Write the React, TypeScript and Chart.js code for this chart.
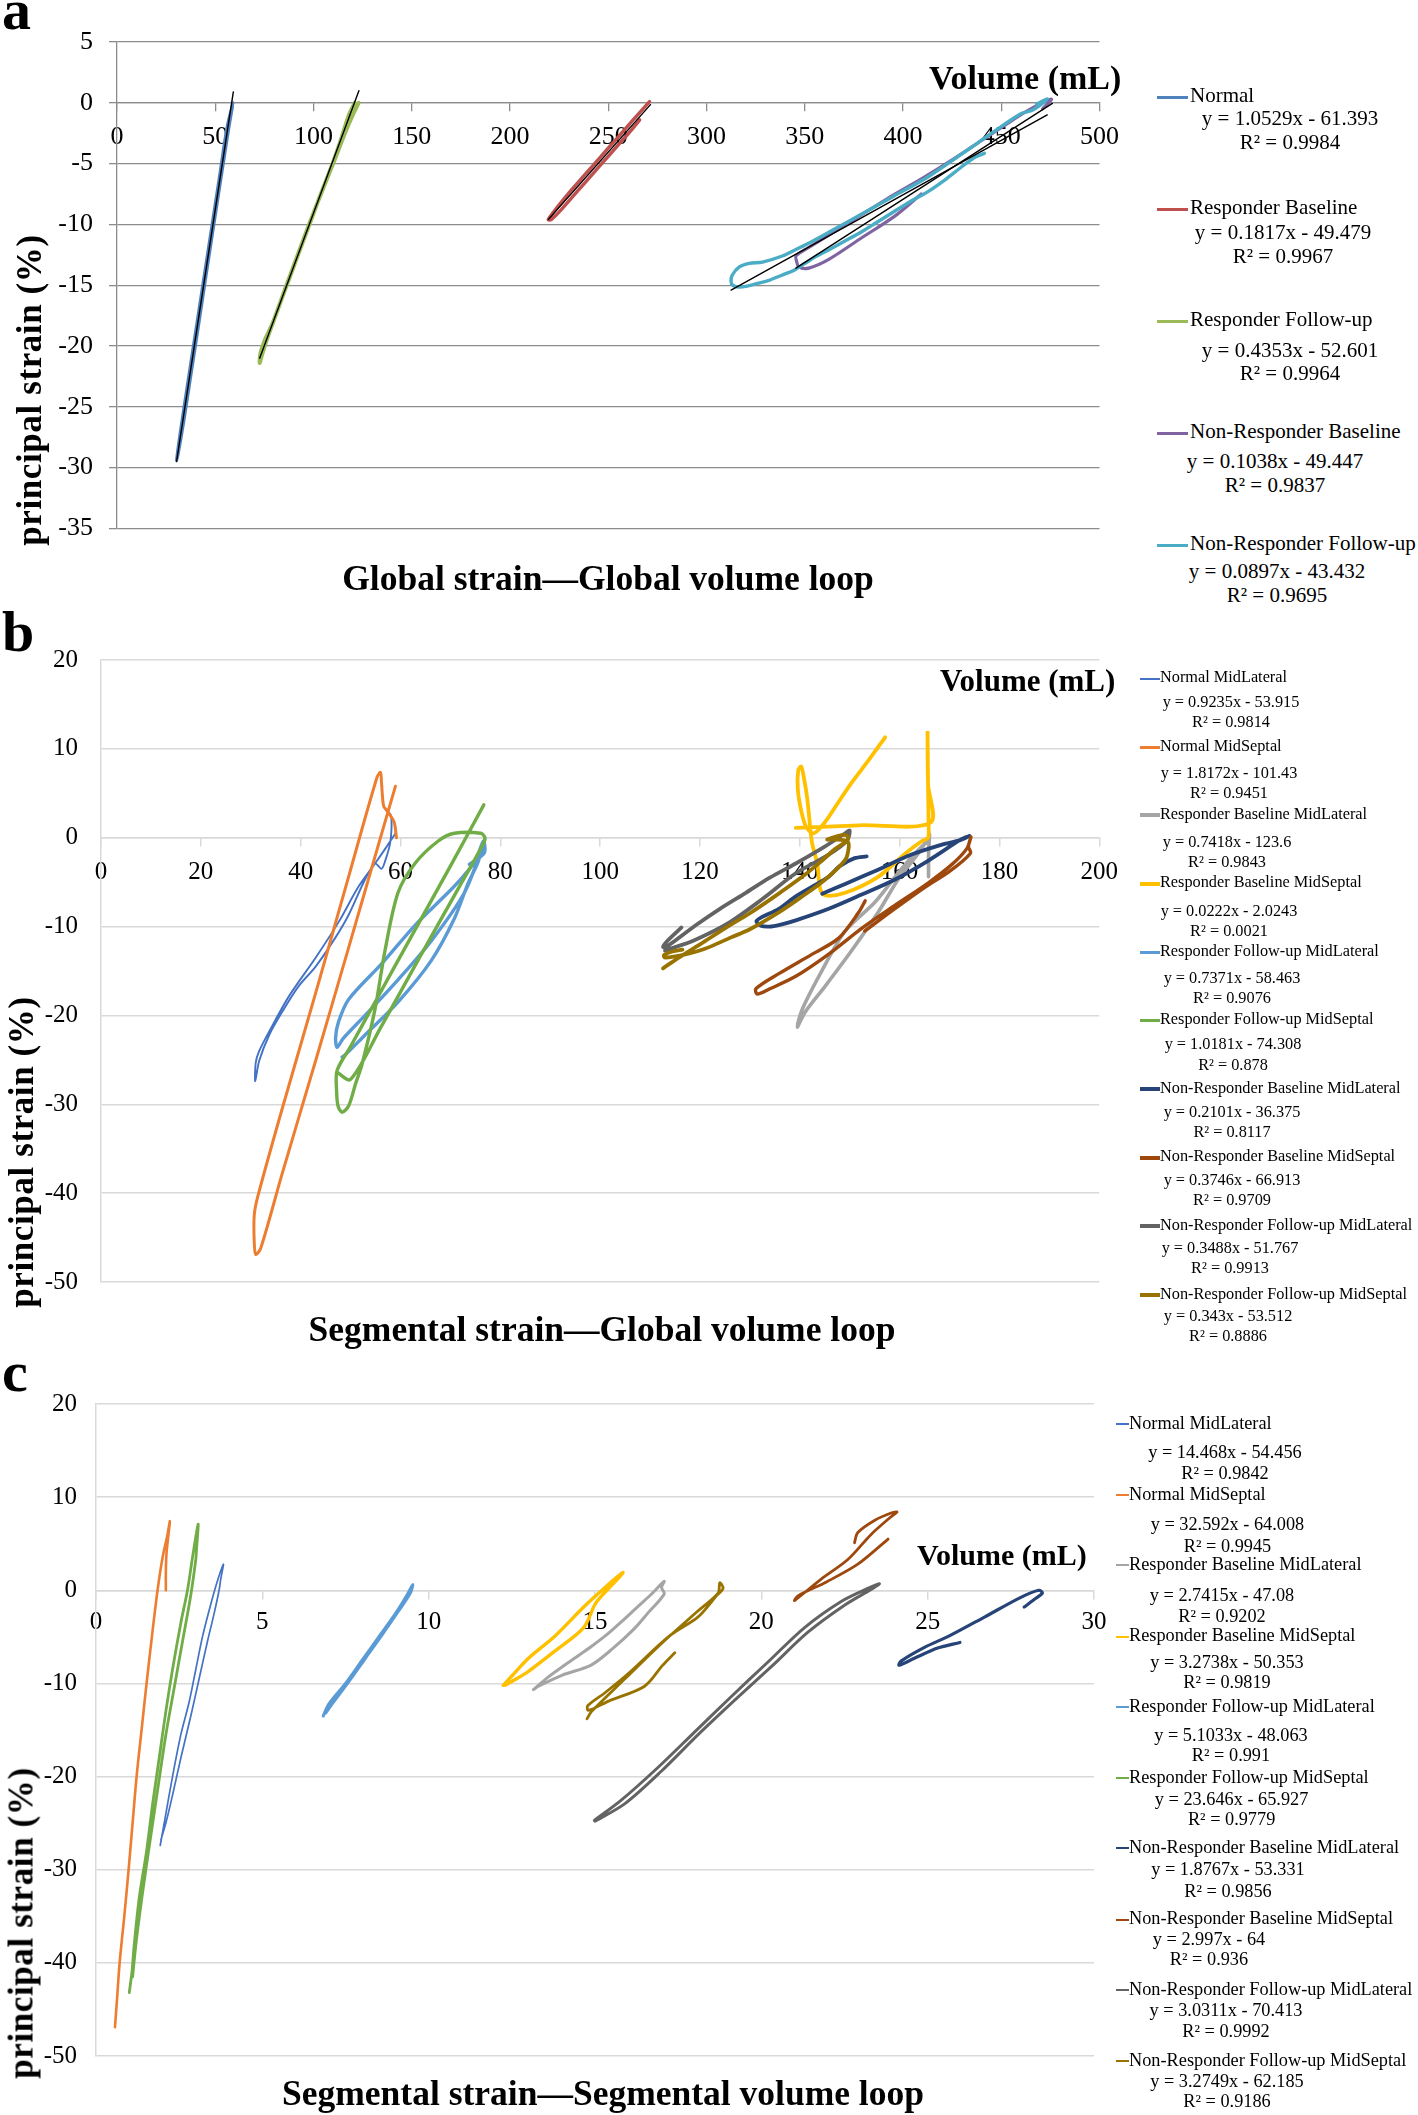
import React, { useEffect, useRef } from "react";
import { Chart, registerables } from "chart.js";

Chart.register(...registerables);

type Pt = [number, number];

const FONT = '"Liberation Serif", "Times New Roman", Times, serif';

// ================= Panel a : Global strain — Global volume loop =================
const aXTicks = [0, 50, 100, 150, 200, 250, 300, 350, 400, 450, 500];
const aYTicks = [5, 0, -5, -10, -15, -20, -25, -30, -35];
const aLabels = ["Normal", "Responder Baseline", "Responder Follow-up", "Non-Responder Baseline", "Non-Responder Follow-up"];
const aEquations = ["y = 1.0529x - 61.393", "y = 0.1817x - 49.479", "y = 0.4353x - 52.601", "y = 0.1038x - 49.447", "y = 0.0897x - 43.432"];
const aR2 = ["R² = 0.9984", "R² = 0.9967", "R² = 0.9964", "R² = 0.9837", "R² = 0.9695"];

const aNormal: Pt[] = [[59.0, 0.0], [56.0, -2.0], [52.0, -6.2], [48.0, -10.4], [44.0, -14.6], [40.0, -18.8], [36.0, -23.0], [32.0, -27.3], [30.3, -29.4], [31.0, -29.0], [34.0, -26.2], [38.0, -22.0], [42.0, -17.8], [46.0, -13.5], [50.0, -9.3], [54.0, -5.1], [57.0, -2.0], [58.8, -0.3]];
const aRespBase: Pt[] = [[271.0, 0.1], [266.0, -0.8], [260.0, -1.9], [254.0, -3.0], [248.0, -4.1], [242.0, -5.2], [236.0, -6.3], [230.0, -7.4], [224.0, -8.6], [219.5, -9.6], [221.0, -9.6], [226.0, -8.8], [232.0, -7.7], [238.0, -6.6], [244.0, -5.5], [250.0, -4.4], [256.0, -3.3], [262.0, -2.2], [266.0, -1.4]];
const aRespFollow: Pt[] = [[123.0, 0.0], [120.0, -1.0], [116.0, -2.5], [111.0, -4.6], [105.0, -7.0], [98.0, -9.9], [92.0, -12.5], [86.0, -15.1], [80.0, -17.8], [76.0, -19.6], [73.5, -20.9], [72.6, -21.4], [73.0, -20.6], [75.0, -19.6], [79.0, -18.2], [85.0, -15.6], [91.0, -13.0], [97.0, -10.4], [103.0, -7.8], [109.0, -5.3], [114.0, -3.0], [118.0, -1.0], [121.0, 0.0]];
const aNonRespBase: Pt[] = [[409.3, -7.5], [396.0, -9.3], [379.0, -11.1], [362.0, -12.9], [352.0, -13.6], [347.0, -13.5], [345.8, -13.0], [345.5, -12.6], [350.0, -12.1], [360.0, -11.1], [370.0, -10.1], [380.0, -9.1], [395.0, -7.6], [410.0, -6.2], [425.0, -4.7], [440.0, -3.1], [455.0, -1.5], [465.0, -0.5], [475.5, 0.3], [471.0, -0.5]];
const aNonRespFollow: Pt[] = [[468.0, -0.1], [473.4, 0.3], [466.0, -0.6], [460.0, -0.9], [446.4, -2.35], [430.0, -4.2], [412.7, -6.1], [395.0, -7.7], [379.0, -9.15], [365.0, -10.4], [353.7, -11.4], [345.0, -12.1], [338.6, -12.6], [328.5, -13.1], [321.7, -13.2], [316.7, -13.5], [313.0, -14.2], [312.5, -14.7], [313.3, -15.0], [316.0, -15.15], [320.0, -15.1], [326.0, -14.85], [331.8, -14.6], [338.0, -14.2], [345.3, -13.7], [353.0, -12.9], [362.1, -12.1], [370.0, -11.4], [379.0, -10.6], [387.0, -9.8], [395.9, -8.9], [404.0, -8.1], [412.7, -7.3], [421.2, -6.35], [429.6, -5.3], [436.4, -4.5], [441.4, -4.16]];

const aNormalTrend: Pt[] = [[30.3, -29.5], [59.2, 0.9]];
const aRespBaseTrend: Pt[] = [[219.5, -9.6], [271.5, -0.15]];
const aRespFollowTrend: Pt[] = [[72.6, -21.0], [123.1, 1.0]];
const aNonRespBaseTrend: Pt[] = [[345.5, -13.6], [476.0, -0.05]];
const aNonRespFollowTrend: Pt[] = [[312.5, -15.4], [473.4, -1.0]];

// ================= Panel b : Segmental strain — Global volume loop =================
const bXTicks = [0, 20, 40, 60, 80, 100, 120, 140, 160, 180, 200];
const bYTicks = [20, 10, 0, -10, -20, -30, -40, -50];
const segLabels = ["Normal MidLateral", "Normal MidSeptal", "Responder Baseline MidLateral", "Responder Baseline MidSeptal", "Responder Follow-up MidLateral", "Responder Follow-up MidSeptal", "Non-Responder Baseline MidLateral", "Non-Responder Baseline MidSeptal", "Non-Responder Follow-up MidLateral", "Non-Responder Follow-up MidSeptal"];
const bEquations = ["y = 0.9235x - 53.915", "y = 1.8172x - 101.43", "y = 0.7418x - 123.6", "y = 0.0222x - 2.0243", "y = 0.7371x - 58.463", "y = 1.0181x - 74.308", "y = 0.2101x - 36.375", "y = 0.3746x - 66.913", "y = 0.3488x - 51.767", "y = 0.343x - 53.512"];
const bR2 = ["R² = 0.9814", "R² = 0.9451", "R² = 0.9843", "R² = 0.0021", "R² = 0.9076", "R² = 0.878", "R² = 0.8117", "R² = 0.9709", "R² = 0.9913", "R² = 0.8886"];

const bNormalMidLat: Pt[] = [[59.0, 0.5], [57.0, -1.2], [54.9, -2.9], [51.6, -5.5], [47.6, -9.5], [43.0, -13.5], [37.7, -17.8], [33.7, -21.8], [31.7, -24.0], [31.0, -25.3], [30.9, -27.4], [31.7, -25.1], [33.7, -22.2], [36.3, -19.6], [39.6, -16.7], [43.0, -14.5], [46.9, -11.3], [49.6, -8.7], [52.9, -4.7], [54.9, -2.9], [56.2, -3.5], [57.0, -2.5], [57.9, -0.7], [58.2, 1.0], [58.1, 2.5], [57.6, 2.9]];
const bNormalMidSep: Pt[] = [[59.2, 0.0], [58.7, 1.8], [57.2, 3.1], [56.6, 3.6], [56.2, 6.2], [56.0, 7.35], [55.3, 6.8], [49.6, -4.4], [43.0, -17.5], [36.3, -30.5], [31.4, -40.4], [30.7, -42.5], [30.7, -45.5], [31.0, -46.9], [32.0, -46.2], [36.3, -37.8], [43.0, -25.1], [49.6, -12.4], [56.2, 0.4], [59.0, 5.8]];
const bRespBaseMidLat: Pt[] = [[166.0, 0.4], [165.8, -2.0], [165.8, -4.4], [165.8, -2.0], [165.7, -0.5], [162.4, -2.2], [159.7, -4.0], [155.0, -7.3], [149.1, -10.5], [144.5, -14.9], [140.5, -19.3], [139.5, -21.3], [141.1, -19.6], [145.1, -16.7], [150.4, -12.7], [155.7, -8.4], [159.7, -4.7], [163.7, -1.8], [165.5, -0.2]];
const bRespBaseMidSep: Pt[] = [[157.1, 11.3], [153.5, 8.5], [150.4, 6.2], [147.5, 3.8], [145.1, 1.8], [142.8, 0.5], [141.3, 1.2], [140.3, 3.0], [139.6, 5.5], [139.7, 7.6], [140.3, 8.0], [140.9, 6.5], [141.5, 4.4], [142.1, 1.1], [142.5, -0.7], [143.5, -2.9], [144.1, -5.8], [145.1, -6.5], [149.1, -6.2], [155.7, -4.4], [161.1, -1.8], [164.4, -0.4], [165.7, 0.0], [165.8, 1.5], [165.7, 6.0], [165.6, 12.0], [165.7, 6.0], [166.2, 1.7], [152.0, 1.4], [139.2, 1.1]];
const bRespFuMidLat: Pt[] = [[73.8, -3.0], [76.8, -1.7], [76.6, -0.4], [75.0, -2.6], [72.5, -4.4], [69.5, -6.2], [63.0, -9.8], [56.2, -14.2], [49.6, -18.2], [47.6, -20.7], [47.0, -22.5], [47.3, -23.6], [48.5, -22.6], [52.9, -20.0], [59.5, -16.0], [66.2, -11.6], [72.8, -6.2], [76.3, -1.2], [76.9, -0.1], [75.5, -2.8], [73.5, -5.2], [70.8, -9.1], [66.2, -13.8], [59.5, -18.5], [52.9, -22.2], [49.0, -24.4], [48.3, -24.7]];
const bRespFuMidSep: Pt[] = [[76.7, 3.7], [70.0, -3.2], [62.0, -11.3], [55.0, -18.4], [50.0, -23.5], [47.3, -26.2], [47.2, -28.5], [47.5, -30.2], [48.3, -30.9], [49.6, -30.2], [51.0, -27.7], [52.3, -25.5], [54.9, -19.3], [56.9, -12.7], [59.5, -6.2], [62.9, -2.9], [67.5, -0.4], [70.8, 0.5], [76.1, 0.5], [76.9, 0.0], [76.5, -0.8], [72.0, -5.3], [64.0, -13.3], [56.0, -21.4], [50.0, -27.2], [47.3, -26.4]];
const bNonRespBaseMidLat: Pt[] = [[153.4, -2.1], [151.0, -2.3], [148.0, -3.2], [145.8, -4.4], [142.5, -5.5], [139.2, -6.6], [135.8, -8.0], [132.2, -9.0], [131.3, -9.4], [132.2, -9.9], [133.9, -10.0], [136.0, -9.8], [139.2, -9.3], [145.8, -8.0], [152.4, -6.4], [159.1, -4.7], [165.7, -2.6], [172.3, -0.2], [174.0, 0.2], [172.0, -0.3], [169.0, -0.7], [162.4, -1.9], [155.7, -3.6], [149.1, -5.2], [144.5, -6.3]];
const bNonRespBaseMidSep: Pt[] = [[153.1, -7.1], [151.8, -8.4], [147.8, -11.3], [142.5, -13.1], [135.8, -15.3], [131.2, -17.0], [131.5, -17.6], [134.0, -17.0], [139.2, -15.6], [145.8, -13.1], [152.4, -10.2], [159.1, -7.6], [165.7, -5.1], [170.5, -3.0], [173.5, -1.2], [174.3, 0.1], [173.8, -1.0], [174.2, -1.75], [170.0, -3.8], [165.0, -5.6], [159.0, -8.0], [153.0, -10.5]];
const bNonRespFuMidLat: Pt[] = [[116.3, -10.1], [113.5, -11.6], [112.6, -12.3], [113.5, -12.2], [119.3, -9.8], [124.0, -8.0], [129.2, -6.2], [134.0, -4.5], [139.2, -2.9], [145.0, -1.0], [149.1, 0.5], [150.0, 0.8], [149.5, -0.3], [145.8, -1.9], [139.2, -4.0], [132.5, -6.9], [126.0, -9.5], [119.0, -11.5], [113.0, -12.7]];
const bNonRespFuMidSep: Pt[] = [[112.6, -14.7], [116.0, -13.4], [120.0, -12.0], [125.0, -10.2], [130.0, -8.5], [135.0, -6.6], [140.0, -4.6], [144.0, -2.8], [147.0, -1.3], [149.5, -0.3], [149.6, 0.2], [148.5, 0.3], [145.5, -0.2], [147.0, -0.2], [149.5, -0.4], [149.8, -1.1], [149.1, -2.5], [145.1, -4.7], [140.0, -6.8], [135.8, -8.4], [130.0, -10.3], [125.9, -11.3], [121.0, -12.5], [117.3, -13.1], [113.0, -13.5], [112.8, -13.2], [114.5, -12.8], [116.5, -12.6]];

// ================= Panel c : Segmental strain — Segmental volume loop =================
const cXTicks = [0, 5, 10, 15, 20, 25, 30];
const cYTicks = [20, 10, 0, -10, -20, -30, -40, -50];
const cEquations = ["y = 14.468x - 54.456", "y = 32.592x - 64.008", "y = 2.7415x - 47.08", "y = 3.2738x - 50.353", "y = 5.1033x - 48.063", "y = 23.646x - 65.927", "y = 1.8767x - 53.331", "y = 2.997x - 64", "y = 3.0311x - 70.413", "y = 3.2749x - 62.185"];
const cR2 = ["R² = 0.9842", "R² = 0.9945", "R² = 0.9202", "R² = 0.9819", "R² = 0.991", "R² = 0.9779", "R² = 0.9856", "R² = 0.936", "R² = 0.9992", "R² = 0.9186"];

const cNormalMidLat: Pt[] = [[1.93, -27.4], [2.1, -24.0], [2.3, -20.0], [2.55, -15.5], [2.8, -12.0], [3.0, -8.5], [3.2, -5.0], [3.45, -1.5], [3.65, 1.0], [3.83, 2.8], [3.75, 1.2], [3.7, 0.0], [3.55, -2.5], [3.35, -5.5], [3.1, -9.5], [2.85, -13.5], [2.55, -18.0], [2.3, -22.0], [2.1, -25.0], [1.95, -26.8]];
const cNormalMidSep: Pt[] = [[0.57, -46.9], [0.63, -44.0], [0.71, -40.0], [0.85, -35.0], [0.98, -30.0], [1.1, -25.0], [1.22, -20.0], [1.37, -15.0], [1.52, -10.0], [1.68, -5.0], [1.85, 0.0], [2.0, 3.5], [2.15, 6.0], [2.22, 7.4], [2.12, 4.0], [2.1, 2.0], [2.1, 0.0]];
const cRespBaseMidLat: Pt[] = [[13.15, -10.66], [13.6, -9.3], [14.34, -7.4], [14.9, -6.0], [15.41, -4.6], [15.85, -3.2], [16.27, -1.8], [16.7, -0.4], [17.08, 0.97], [17.0, 0.3], [17.08, -0.4], [16.6, -2.4], [16.16, -4.2], [15.52, -6.3], [14.87, -8.06], [14.02, -9.1], [13.3, -10.3], [13.15, -10.66]];
const cRespBaseMidSep: Pt[] = [[12.24, -10.2], [12.5, -9.2], [13.0, -7.3], [13.8, -4.9], [14.66, -1.8], [15.3, 0.3], [15.84, 1.9], [15.6, 0.9], [15.2, -0.6], [15.0, -1.5], [14.66, -4.0], [13.8, -6.5], [13.0, -8.7], [12.5, -9.8], [12.3, -10.2]];
const cRespFuMidLat: Pt[] = [[6.83, -13.5], [7.0, -12.2], [7.5, -10.0], [8.0, -7.5], [8.5, -5.0], [9.0, -2.5], [9.35, -0.5], [9.52, 0.6], [9.45, -0.3], [9.1, -2.2], [8.6, -4.8], [8.1, -7.3], [7.6, -9.8], [7.1, -12.2], [6.9, -13.2]];
const cRespFuMidSep: Pt[] = [[1.0, -43.2], [1.08, -41.0], [1.15, -38.0], [1.3, -33.0], [1.52, -28.0], [1.7, -23.0], [1.9, -18.0], [2.1, -13.0], [2.3, -8.5], [2.55, -3.5], [2.75, 0.0], [2.9, 3.5], [3.07, 7.1], [3.02, 4.3], [3.0, 3.3], [2.85, -0.5], [2.6, -5.5], [2.35, -10.5], [2.1, -15.5], [1.85, -21.5], [1.6, -27.5], [1.38, -33.0], [1.2, -38.0], [1.1, -41.5]];
const cNonRespBaseMidLat: Pt[] = [[25.97, -5.6], [25.3, -6.2], [24.6, -7.3], [24.14, -8.05], [24.2, -7.6], [24.89, -6.15], [25.65, -4.9], [26.72, -2.85], [27.8, -0.76], [28.34, 0.0], [28.45, -0.3], [28.2, -1.0], [27.9, -1.8]];
const cNonRespBaseMidSep: Pt[] = [[22.8, 5.1], [22.9, 6.2], [23.4, 7.5], [23.9, 8.3], [24.08, 8.4], [23.9, 7.9], [23.3, 6.0], [22.6, 3.3], [21.8, 1.2], [21.0, -1.1], [21.1, -0.6], [21.96, 0.9], [22.9, 2.8], [23.81, 5.5]];
const cNonRespFuMidLat: Pt[] = [[14.98, -24.7], [15.8, -22.5], [16.9, -19.0], [18.0, -15.2], [19.1, -11.4], [20.2, -7.7], [21.3, -4.0], [22.4, -1.2], [23.2, 0.2], [23.55, 0.7], [23.3, 0.1], [22.5, -1.6], [21.4, -4.5], [20.3, -8.2], [19.2, -11.8], [18.1, -15.5], [17.0, -19.4], [15.9, -22.9], [15.0, -24.8]];
const cNonRespFuMidSep: Pt[] = [[17.4, -6.7], [17.03, -8.06], [16.49, -10.3], [15.41, -11.9], [14.8, -12.9], [14.78, -12.4], [15.3, -11.0], [15.95, -9.1], [17.24, -4.9], [18.1, -2.85], [18.65, -0.6], [18.85, 0.2], [18.75, 0.8], [18.7, -0.3], [18.1, -2.2], [17.0, -5.7], [15.9, -9.5], [14.9, -13.0], [14.76, -13.8]];

// ================= Styles & layout (kept apart from the data) =================
const aColors = ["#4F81BD", "#C0504D", "#9BBB59", "#8064A2", "#4BACC6"];
const aWidths = [3.0, 3.4, 4.0, 3.2, 3.4];
const segColors = ["#4472C4", "#ED7D31", "#A5A5A5", "#FFC000", "#5B9BD5", "#70AD47", "#264478", "#9E480E", "#636363", "#997300"];
const bWidths = [1.9, 3.0, 3.6, 3.8, 3.4, 3.4, 3.8, 3.4, 3.8, 3.8];
const cWidths = [1.7, 2.6, 3.0, 3.4, 3.0, 2.8, 3.2, 2.8, 3.0, 2.8];

const aLegendRows: number[][] = [[96, 119, 143], [208, 233, 257], [320, 351, 374], [432, 462, 486], [544, 572, 596]];
const aLegendCx = [1290, 1283, 1290, 1275, 1277];
const bLegendRows: number[][] = [[677.7, 702.7, 722.3], [746, 772.8, 793.7], [814.3, 842, 862], [882.6, 911, 931], [951, 978, 998], [1019.6, 1044, 1065], [1088, 1112, 1132], [1156.7, 1180, 1200], [1225, 1248, 1268], [1293.8, 1316.5, 1336]];
const bLegendCx = [1231, 1229, 1227, 1229, 1232, 1233, 1232, 1232, 1230, 1228];
const bSampleW = [2, 3, 4, 4, 3, 3, 4, 4, 4, 4];
const cLegendRows: number[][] = [[1422.8, 1452.4, 1473], [1494.4, 1524, 1546], [1564, 1595, 1616.6], [1635.7, 1662, 1682.7], [1706.4, 1735, 1755.7], [1777, 1799, 1819.5], [1846.9, 1869.7, 1891], [1918.5, 1939, 1959.5], [1989, 2010, 2031.5], [2059.8, 2080.8, 2100.9]];
const cLegendCx = [1225, 1227.5, 1222, 1227, 1231, 1231.6, 1228, 1209, 1226, 1227];

type Series = { data: Pt[]; color: string; width: number; tension?: number; order?: number };
type PanelSpec = {
  top: number; width: number; height: number;
  area: { left: number; right: number; top: number; bottom: number };
  xMin: number; xMax: number; xTicks: number[];
  yMin: number; yMax: number; yTicks: number[];
  series: Series[];
  gridColor: string; axisColor: string; gridWidth: number;
  tickFont: number; xPad: number; yPad: number; yTickMarks: boolean;
};

function ChartPanel({ spec }: { spec: PanelSpec }) {
  const ref = useRef<HTMLCanvasElement | null>(null);
  useEffect(() => {
    if (!ref.current) return;
    const s = spec;
    const font = { family: FONT, size: s.tickFont };
    const chart = new Chart(ref.current, {
      type: "scatter",
      data: {
        datasets: s.series.map((ser, i) => ({
          data: ser.data.map(([x, y]) => ({ x, y })),
          showLine: true,
          borderColor: ser.color,
          backgroundColor: ser.color,
          borderWidth: ser.width,
          pointRadius: 0,
          pointHoverRadius: 0,
          tension: ser.tension ?? 0.3,
          fill: false,
          borderCapStyle: "round",
          borderJoinStyle: "round",
          order: ser.order ?? -i,
        })),
      },
      options: {
        animation: false,
        responsive: false,
        devicePixelRatio: 1,
        events: [],
        layout: {
          padding: {
            left: 0,
            top: s.area.top - s.top,
            right: s.width - s.area.right,
            bottom: s.top + s.height - s.area.bottom,
          },
        },
        plugins: { legend: { display: false }, tooltip: { enabled: false }, title: { display: false } },
        scales: {
          x: {
            type: "linear",
            min: s.xMin,
            max: s.xMax,
            position: { y: 0 } as any,
            afterBuildTicks: (sc: any) => { sc.ticks = s.xTicks.map((v) => ({ value: v })); },
            ticks: { font, color: "#000", padding: s.xPad, maxRotation: 0, autoSkip: false, callback: (v: any) => String(v) },
            grid: { drawOnChartArea: false, drawTicks: true, tickLength: 8, color: s.axisColor, lineWidth: s.gridWidth },
            border: { display: true, color: s.axisColor, width: s.gridWidth },
          },
          y: {
            type: "linear",
            min: s.yMin,
            max: s.yMax,
            afterBuildTicks: (sc: any) => { sc.ticks = s.yTicks.map((v) => ({ value: v })); },
            afterFit: (sc: any) => { sc.width = s.area.left; },
            ticks: { font, color: "#000", padding: s.yPad, autoSkip: false, callback: (v: any) => String(v) },
            grid: { color: s.gridColor, lineWidth: s.gridWidth, drawTicks: s.yTickMarks, tickLength: 8 },
            border: { display: true, color: s.axisColor, width: s.gridWidth },
          },
        },
      } as any,
    });
    return () => chart.destroy();
  }, []);
  return (
    <canvas
      ref={ref}
      width={spec.width}
      height={spec.height}
      style={{ position: "absolute", left: 0, top: spec.top, width: spec.width, height: spec.height }}
    />
  );
}

function Txt(props: { x: number; base: number; text: string; size: number; bold?: boolean; center?: boolean }) {
  const { x, base, text, size, bold, center } = props;
  const style: React.CSSProperties = {
    position: "absolute",
    left: x,
    top: base - 0.8375 * size,
    fontFamily: FONT,
    fontSize: size,
    lineHeight: `${size}px`,
    fontWeight: bold ? "bold" : "normal",
    whiteSpace: "nowrap",
    color: "#000",
  };
  if (center) style.transform = "translateX(-50%)";
  return <div style={style}>{text}</div>;
}

function VTxt(props: { cx: number; cy: number; text: string; size: number }) {
  return (
    <div
      style={{
        position: "absolute",
        left: props.cx,
        top: props.cy,
        transform: "translate(-50%, -50%) rotate(-90deg)",
        fontFamily: FONT,
        fontSize: props.size,
        lineHeight: `${props.size}px`,
        fontWeight: "bold",
        letterSpacing: "0.6px",
        whiteSpace: "nowrap",
        color: "#000",
      }}
    >
      {props.text}
    </div>
  );
}

function Legend(props: {
  labels: string[]; eqs: string[]; r2s: string[]; colors: string[]; thick: number[];
  rows: number[][]; centers: number[]; sampleX: number; sampleW: number; textX: number; size: number;
}) {
  const p = props;
  const k = 0.33 * p.size;
  return (
    <>
      {p.labels.map((lab, i) => (
        <React.Fragment key={i}>
          <div style={{ position: "absolute", left: p.sampleX, top: p.rows[i][0] - p.thick[i] / 2 + 1, width: p.sampleW, height: p.thick[i], background: p.colors[i] }} />
          <Txt x={p.textX} base={p.rows[i][0] + k} text={lab} size={p.size} />
          <Txt x={p.centers[i]} base={p.rows[i][1] + k} text={p.eqs[i]} size={p.size} center />
          <Txt x={p.centers[i]} base={p.rows[i][2] + k} text={p.r2s[i]} size={p.size} center />
        </React.Fragment>
      ))}
    </>
  );
}

const trendStyle = (data: Pt[]): Series => ({ data, color: "#000000", width: 1.4, tension: 0, order: -100 });

const specA: PanelSpec = {
  top: 0, width: 1130, height: 560,
  area: { left: 117, right: 1106, top: 42, bottom: 542 },
  xMin: 0, xMax: 500, xTicks: aXTicks, yMin: -35, yMax: 5, yTicks: aYTicks,
  series: [
    ...[aNormal, aRespBase, aRespFollow, aNonRespBase, aNonRespFollow].map((d, i) => ({ data: d, color: aColors[i], width: aWidths[i] })),
    ...[aNormalTrend, aRespBaseTrend, aRespFollowTrend, aNonRespBaseTrend, aNonRespFollowTrend].map(trendStyle),
  ],
  gridColor: "#8C8C8C", axisColor: "#8C8C8C", gridWidth: 1.3,
  tickFont: 26, xPad: 11, yPad: 16, yTickMarks: true,
};

const specB: PanelSpec = {
  top: 620, width: 1130, height: 700,
  area: { left: 101, right: 1106, top: 660, bottom: 1302 },
  xMin: 0, xMax: 200, xTicks: bXTicks, yMin: -50, yMax: 20, yTicks: bYTicks,
  series: [bNormalMidLat, bNormalMidSep, bRespBaseMidLat, bRespBaseMidSep, bRespFuMidLat, bRespFuMidSep, bNonRespBaseMidLat, bNonRespBaseMidSep, bNonRespFuMidLat, bNonRespFuMidSep].map((d, i) => ({ data: d, color: segColors[i], width: bWidths[i] })),
  gridColor: "#D9D9D9", axisColor: "#D9D9D9", gridWidth: 1.5,
  tickFont: 25, xPad: 12, yPad: 23, yTickMarks: false,
};

const specC: PanelSpec = {
  top: 1370, width: 1118, height: 720,
  area: { left: 96, right: 1094, top: 1396.5, bottom: 2071 },
  xMin: 0, xMax: 30, xTicks: cXTicks, yMin: -50, yMax: 20, yTicks: cYTicks,
  series: [cNormalMidLat, cNormalMidSep, cRespBaseMidLat, cRespBaseMidSep, cRespFuMidLat, cRespFuMidSep, cNonRespBaseMidLat, cNonRespBaseMidSep, cNonRespFuMidLat, cNonRespFuMidSep].map((d, i) => ({ data: d, color: segColors[i], width: cWidths[i] })),
  gridColor: "#D9D9D9", axisColor: "#D9D9D9", gridWidth: 1.5,
  tickFont: 25, xPad: 9, yPad: 19, yTickMarks: false,
};

export default function App() {
  return (
    <div style={{ position: "absolute", left: 0, top: 0, width: 1418, height: 2115, background: "#fff", overflow: "hidden" }}>
      <ChartPanel spec={specA} />
      <ChartPanel spec={specB} />
      <ChartPanel spec={specC} />

      {/* panel letters */}
      <Txt x={2} base={30} text="a" size={58} bold />
      <Txt x={2} base={652} text="b" size={58} bold />
      <Txt x={2} base={1392} text="c" size={58} bold />

      {/* axis titles */}
      <Txt x={929} base={89} text="Volume (mL)" size={34} bold />
      <Txt x={940} base={691} text="Volume (mL)" size={31} bold />
      <Txt x={917} base={1565} text="Volume (mL)" size={30} bold />

      <VTxt cx={29} cy={390} text="principal strain (%)" size={35} />
      <VTxt cx={21} cy={1152} text="principal strain (%)" size={35} />
      <VTxt cx={21} cy={1923} text="principal strain (%)" size={35} />

      <Txt x={608} base={591} text="Global strain—Global volume loop" size={35.5} bold center />
      <Txt x={602} base={1342} text="Segmental strain—Global volume loop" size={35.5} bold center />
      <Txt x={603} base={2106} text="Segmental strain—Segmental volume loop" size={35.5} bold center />

      <Legend labels={aLabels} eqs={aEquations} r2s={aR2} colors={aColors} thick={[3, 3, 3, 3, 3]}
        rows={aLegendRows} centers={aLegendCx} sampleX={1157} sampleW={31} textX={1190} size={21} />
      <Legend labels={segLabels} eqs={bEquations} r2s={bR2} colors={segColors} thick={bSampleW}
        rows={bLegendRows} centers={bLegendCx} sampleX={1140} sampleW={20} textX={1160} size={16.3} />
      <Legend labels={segLabels} eqs={cEquations} r2s={cR2} colors={segColors} thick={[2, 2, 2, 2, 2, 2, 2, 2, 2, 2]}
        rows={cLegendRows} centers={cLegendCx} sampleX={1116} sampleW={13} textX={1129} size={18.3} />
    </div>
  );
}
